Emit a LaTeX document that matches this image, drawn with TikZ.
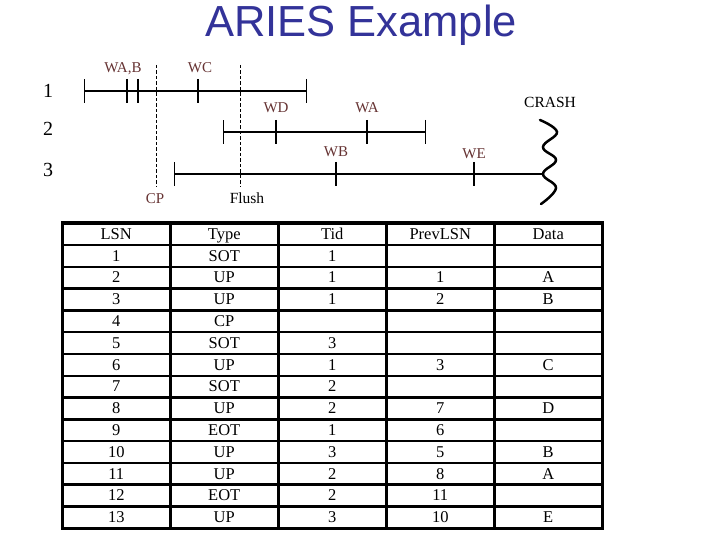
\documentclass[tikz,border=0pt]{standalone}
\usepackage{fontspec}
\setmainfont{Liberation Serif}
\newfontfamily\titlefont{Liberation Sans}
\usetikzlibrary{matrix,positioning,arrows.meta}
\definecolor{titleblue}{RGB}{51,51,153}
\definecolor{wbrown}{RGB}{102,51,51}
\tikzset{
logtab/.style={
  matrix of nodes,
  nodes in empty cells,
  inner sep=0pt,
  outer sep=0pt,
  column sep=-2.5pt,
  row sep=-2.5pt,
  nodes={draw,line width=2.5pt,minimum width=108pt,minimum height=21.79pt,
    inner sep=0pt,outer sep=0pt,text height=12.5pt,text depth=2pt,
    font=\fontsize{16.5}{19}\selectfont}
  },
tline/.style={line width=1.2pt,{Bar[width=24pt]}-{Bar[width=24pt]}},
tline open/.style={line width=1.2pt,{Bar[width=24pt]}-},
tickmark/.style={line width=1.2pt},
cutline/.style={line width=1pt,dash pattern=on 3.5pt off 2pt},
wlbl/.style={anchor=base,inner sep=0pt,text=wbrown,font=\fontsize{15}{18}\selectfont},
blbl/.style={anchor=base,inner sep=0pt,font=\fontsize{15.5}{18}\selectfont},
rowlbl/.style={anchor=base,inner sep=0pt,font=\fontsize{20}{24}\selectfont}
}
\begin{document}
\begin{tikzpicture}[x=1pt,y=-1pt]
\useasboundingbox (0,0) rectangle (720,540);

\node[anchor=base,inner sep=0pt,text=titleblue,font=\titlefont\fontsize{43.5}{50}\selectfont]
  (title) at (361,37) {ARIES Example};

% transactions
\node[rowlbl] (r1) at (48,98) {1};
\node[rowlbl] (r2) at (48,136) {2};
\node[rowlbl] (r3) at (48,177) {3};

\coordinate (t1s) at (84,91);
\coordinate (t1e) at (307,91);
\coordinate (t2s) at (223,132);
\coordinate (t2e) at (426,132);
\coordinate (t3s) at (174,174);
\coordinate (t3e) at (543,174);

\coordinate (wab1) at (127,91);
\coordinate (wab2) at (138,91);
\coordinate (wc) at (198,91);
\coordinate (wd) at (276,132);
\coordinate (wa) at (367,132);
\coordinate (wb) at (336,174);
\coordinate (we) at (474,174);

\draw[tline] (t1s) -- (t1e);
\draw[tline] (t2s) -- (t2e);
\draw[tline open] (t3s) -- (t3e);

\foreach \p in {wab1,wab2,wc,wd,wa,wb,we}
  \draw[tickmark] (\p) ++(0,-12) -- ++(0,24);

\node[wlbl] (lwab) at (123,73) {WA,B};
\node[wlbl] (lwc) at (200,73) {WC};
\node[wlbl] (lwd) at (276,113) {WD};
\node[wlbl] (lwa) at (367,113) {WA};
\node[wlbl] (lwb) at (336,157) {WB};
\node[wlbl] (lwe) at (474,159) {WE};
\node[blbl] (lcrash) at (550,108) {CRASH};

% checkpoint and flush
\coordinate (cp-top) at (156,65);
\coordinate (cp-bot) at (156,187);
\coordinate (fl-top) at (240,65);
\coordinate (fl-bot) at (240,187);
\draw[cutline] (cp-top) -- (cp-bot);
\draw[cutline] (fl-top) -- (fl-bot);
\node[wlbl] (lcp) at (155,204) {CP};
\node[blbl] (lfl) at (247,204) {Flush};

% crash
\draw[line width=2.5pt,line cap=round] plot[smooth,tension=0.7] coordinates
  {(540,120) (557,132) (543,147) (556,160) (543,174) (556,188) (541,204)};

% log
\matrix[logtab,anchor=north west] at (61,222) (log)
{
LSN & Type & Tid & PrevLSN & Data \\
1 & SOT & 1 & & \\
2 & UP & 1 & 1 & A \\
3 & UP & 1 & 2 & B \\
4 & CP & & & \\
5 & SOT & 3 & & \\
6 & UP & 1 & 3 & C \\
7 & SOT & 2 & & \\
8 & UP & 2 & 7 & D \\
9 & EOT & 1 & 6 & \\
10 & UP & 3 & 5 & B \\
11 & UP & 2 & 8 & A \\
12 & EOT & 2 & 11 & \\
13 & UP & 3 & 10 & E \\
};
\draw[line width=3.5pt] (log-1-1.north west) rectangle (log-14-5.south east);
\end{tikzpicture}
\end{document}
